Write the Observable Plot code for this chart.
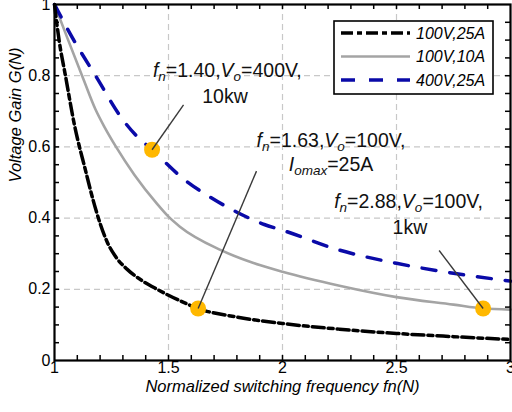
<!DOCTYPE html>
<html><head><meta charset="utf-8">
<script src="https://cdn.jsdelivr.net/npm/d3@7"></script>
<script src="https://cdn.jsdelivr.net/npm/@observablehq/plot@0.6"></script>
<style>body{margin:0;background:#fff} svg{display:block}</style>
</head><body><div id="chart"></div>
<script>
const seriesNames = ["100V,25A", "100V,10A", "400V,25A"];

const fnBlack   = [1, 1.02, 1.048, 1.088, 1.136, 1.17, 1.2, 1.231, 1.27, 1.319, 1.38, 1.45, 1.55, 1.63, 1.8, 2, 2.25, 2.5, 2.75, 3];
const gainBlack = [1, 0.9, 0.8, 0.66, 0.534, 0.449, 0.385, 0.333, 0.29, 0.256, 0.226, 0.2, 0.168, 0.146, 0.122, 0.104, 0.088, 0.076, 0.067, 0.059];

const fnGray   = [1, 1.06, 1.127, 1.18, 1.22, 1.27, 1.35, 1.45, 1.5, 1.55, 1.73, 1.9, 2, 2.25, 2.5, 2.75, 2.88, 3];
const gainGray = [1, 0.9, 0.79, 0.705, 0.655, 0.6, 0.522, 0.44, 0.404, 0.376, 0.31, 0.268, 0.249, 0.21, 0.178, 0.157, 0.146, 0.143];

const fnBlue   = [1, 1.08, 1.18, 1.3, 1.355, 1.428, 1.57, 1.68, 1.796, 1.92, 2, 2.25, 2.5, 2.75, 3];
const gainBlue = [1, 0.905, 0.8, 0.676, 0.634, 0.592, 0.508, 0.46, 0.418, 0.382, 0.366, 0.31, 0.273, 0.245, 0.223];

const pointFn   = [1.428, 1.63, 2.88];
const pointGain = [0.592, 0.146, 0.146];
const leaderFn   = [1.566, 1.886, 2.687];
const leaderGain = [0.718, 0.532, 0.309];

const xTicks = [1, 1.5, 2, 2.5, 3];
const xTickLabels = ["1", "1.5", "2", "2.5", "3"];
const yTicks = [0, 0.2, 0.4, 0.6, 0.8, 1];
const yTickLabels = ["0", "0.2", "0.4", "0.6", "0.8", "1"];
const xMinor = [1.1,1.2,1.3,1.4,1.5,1.6,1.7,1.8,1.9,2,2.1,2.2,2.3,2.4,2.5,2.6,2.7,2.8,2.9];
const yMinor = [0.05,0.1,0.15,0.2,0.25,0.3,0.35,0.4,0.45,0.5,0.55,0.6,0.65,0.7,0.75,0.8,0.85,0.9,0.95];
const xGrid = [1.5, 2, 2.5];
const yGrid = [0.2, 0.4, 0.6, 0.8];

const xTitle = "Normalized switching frequency fn(N)";
const yTitle = "Voltage Gain G(N)";

// annotation texts: segments [text, italic, subscript]
const annLines = [
  {x: 1.76, y: 0.796, segs: [["f",1,0],["n",1,1],["=1.40,",0,0],["V",1,0],["o",1,1],["=400V,",0,0]]},
  {x: 1.75, y: 0.722, segs: [["10kw",0,0]]},
  {x: 2.215, y: 0.598, segs: [["f",1,0],["n",1,1],["=1.63,",0,0],["V",1,0],["o",1,1],["=100V,",0,0]]},
  {x: 2.215, y: 0.532, segs: [["I",1,0],["omax",1,1],["=25A",0,0]]},
  {x: 2.555, y: 0.427, segs: [["f",1,0],["n",1,1],["=2.88,",0,0],["V",1,0],["o",1,1],["=100V,",0,0]]},
  {x: 2.561, y: 0.354, segs: [["1kw",0,0]]}
];

const font = "'Liberation Sans', Arial, sans-serif";
const colors = ["#000000", "#a4a4a4", "#0a0aa8"];
const widths = [3.5, 2.6, 3.5];
const dashes = ["12,4,5,4", null, "14,14"];

const black = fnBlack.map((x, i) => ({x, y: gainBlack[i]}));
const gray = fnGray.map((x, i) => ({x, y: gainGray[i]}));
const blue = fnBlue.map((x, i) => ({x, y: gainBlue[i]}));
const pts = pointFn.map((x, i) => ({x, y: pointGain[i], x2: leaderFn[i], y2: leaderGain[i]}));

const plot = Plot.plot({
  width: 512, height: 412,
  marginLeft: 54, marginRight: 2, marginTop: 4, marginBottom: 52,
  style: {fontFamily: font, fontSize: "16px", background: "#fff", color: "#000"},
  x: {domain: [1, 3]},
  y: {domain: [0, 1]},
  marks: [
    Plot.ruleX(xGrid, {stroke: "#c8c8c8", strokeWidth: 1.2, strokeDasharray: "6,4"}),
    Plot.ruleY(yGrid, {stroke: "#c8c8c8", strokeWidth: 1.2, strokeDasharray: "6,4"}),
    Plot.line(gray, {x: "x", y: "y", stroke: colors[1], strokeWidth: widths[1], curve: "monotone-x"}),
    Plot.line(blue, {x: "x", y: "y", stroke: colors[2], strokeWidth: widths[2], strokeDasharray: dashes[2], curve: "monotone-x"}),
    Plot.line(black, {x: "x", y: "y", stroke: colors[0], strokeWidth: widths[0], strokeDasharray: dashes[0], curve: "monotone-x"}),
    Plot.dot(pts, {x: "x", y: "y", r: 8, fill: "#FFB800", stroke: "none"}),
    Plot.link(pts, {x1: "x", y1: "y", x2: "x2", y2: "y2", stroke: "#3a3a3a", strokeWidth: 1.4}),
    Plot.ruleX(xMinor, {y1: 0, y2: 0.014, stroke: "#000", strokeWidth: 1.5}),
    Plot.ruleX(xMinor, {y1: 1, y2: 0.986, stroke: "#000", strokeWidth: 1.5}),
    Plot.ruleY(yMinor, {x1: 1, x2: 1.022, stroke: "#000", strokeWidth: 1.5}),
    Plot.ruleY(yMinor, {x1: 3, x2: 2.978, stroke: "#000", strokeWidth: 1.5}),
    Plot.frame({stroke: "#000", strokeWidth: 2.2}),
    Plot.axisX({ticks: xTicks, tickSize: 0, tickPadding: 1, tickFormat: (d, i) => xTickLabels[i], label: null, fontSize: 16}),
    Plot.axisY({ticks: yTicks, tickSize: 0, tickPadding: 4, tickFormat: (d, i) => yTickLabels[i], label: null, fontSize: 16}),
    Plot.text([xTitle], {frameAnchor: "bottom", dy: 31, fontStyle: "italic", fontSize: 16.5, fill: "#000"}),
    Plot.text([yTitle], {frameAnchor: "left", rotate: -90, dx: -39, fontStyle: "italic", fontSize: 16.5, fill: "#000"})
  ]
});

document.getElementById("chart").append(plot);

const sx = plot.scale("x"), sy = plot.scale("y");
const svg = d3.select(plot);

// rich annotation text
for (const line of annLines) {
  const t = svg.append("text")
    .attr("x", sx.apply(line.x)).attr("y", sy.apply(line.y))
    .attr("text-anchor", "middle")
    .style("font-family", font).attr("font-size", 19.5).attr("fill", "#111");
  let sub = false;
  for (const [txt, it, sb] of line.segs) {
    const ts = t.append("tspan").text(txt);
    if (it) ts.attr("font-style", "italic");
    if (sb && !sub) { ts.attr("dy", 4).attr("font-size", 13.5); sub = true; }
    else if (sb) { ts.attr("font-size", 13.5); }
    else if (!sb && sub) { ts.attr("dy", -4); sub = false; }
  }
}

// legend
const lg = svg.append("g");
lg.append("rect").attr("x", 334).attr("y", 21).attr("width", 159).attr("height", 73)
  .attr("fill", "#fff").attr("stroke", "#000").attr("stroke-width", 1.6);
seriesNames.forEach((name, i) => {
  const yy = 33 + i * 23.5;
  const ln = lg.append("line").attr("x1", 341).attr("x2", 410).attr("y1", yy).attr("y2", yy)
    .attr("stroke", colors[i]).attr("stroke-width", widths[i]);
  if (dashes[i]) ln.attr("stroke-dasharray", dashes[i]);
  lg.append("text").attr("x", 416).attr("y", yy).attr("dy", "0.35em")
    .attr("text-anchor", "start")
    .style("font-family", font).attr("font-style", "italic").attr("font-size", 16)
    .attr("fill", "#000").text(name);
});
</script>
</body></html>
